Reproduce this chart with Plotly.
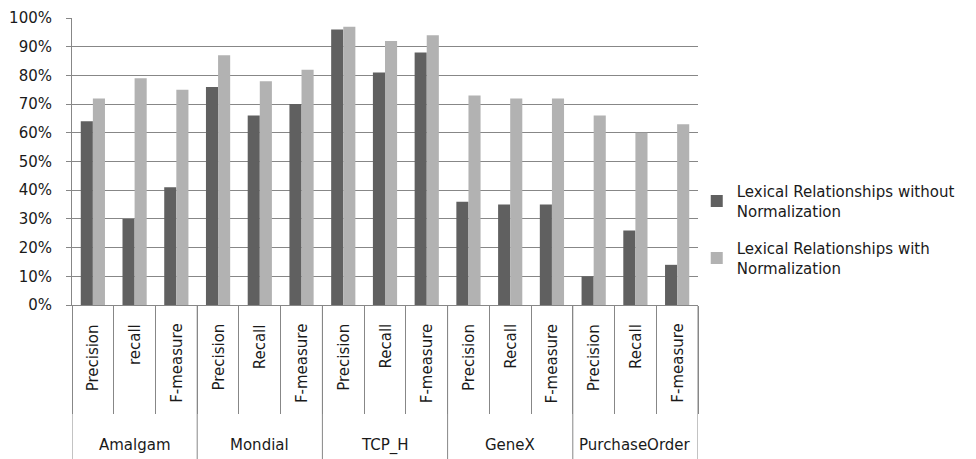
import plotly.graph_objects as go

datasets = ["Amalgam", "Mondial", "TCP_H", "GeneX", "PurchaseOrder"]
metrics = [
    ["Precision", "recall", "F-measure"],
    ["Precision", "Recall", "F-measure"],
    ["Precision", "Recall", "F-measure"],
    ["Precision", "Recall", "F-measure"],
    ["Precision", "Recall", "F-measure"],
]
without_norm = [0.64, 0.30, 0.41, 0.76, 0.66, 0.70, 0.96, 0.81, 0.88,
                0.36, 0.35, 0.35, 0.10, 0.26, 0.14]
with_norm = [0.72, 0.79, 0.75, 0.87, 0.78, 0.82, 0.97, 0.92, 0.94,
             0.73, 0.72, 0.72, 0.66, 0.60, 0.63]
series_names = ["Lexical Relationships without<br>Normalization",
                "Lexical Relationships with<br>Normalization"]
y_ticks = [i / 10 for i in range(11)]

FONT = "DejaVu Sans, sans-serif"
GRID = "#878787"
TEXT = "#1a1a1a"

labels = [m for grp in metrics for m in grp]
xs = list(range(len(labels)))

fig = go.Figure()
fig.add_trace(go.Bar(x=xs, y=without_norm, name=series_names[0],
                     marker=dict(color="#606060", line=dict(width=0)),
                     legendgroup="a"))
fig.add_trace(go.Bar(x=xs, y=with_norm, name=series_names[1],
                     marker=dict(color="#b2b2b2", line=dict(width=0)),
                     legendgroup="b"))

TOP = 10
BOTTOM = 154
plot_h = 451.0 - TOP - BOTTOM

# inner labels
for i, lab in enumerate(labels):
    fig.add_annotation(x=i, xref="x", y=-17 / plot_h, yref="paper",
                       text=lab, textangle=-90, showarrow=False,
                       xanchor="center", yanchor="top",
                       font=dict(family=FONT, size=15, color=TEXT))

# group labels and dividers
start = 0
bounds = [-0.5]
for g, grp in enumerate(metrics):
    n = len(grp)
    center = start + (n - 1) / 2
    fig.add_annotation(x=center, xref="x", y=-140 / plot_h, yref="paper",
                       text=datasets[g], showarrow=False,
                       xanchor="center", yanchor="middle",
                       font=dict(family=FONT, size=15, color=TEXT))
    start += n
    bounds.append(start - 0.5)

for b in bounds:
    fig.add_shape(type="line", xref="x", yref="paper", x0=b, x1=b,
                  y0=0, y1=-BOTTOM / plot_h,
                  line=dict(color=GRID, width=1))

fig.update_layout(
    width=968, height=451,
    margin=dict(l=64, r=278, t=TOP, b=BOTTOM, autoexpand=False),
    plot_bgcolor="white", paper_bgcolor="white",
    barmode="group", bargap=0.42, bargroupgap=0,
    font=dict(family=FONT, size=15, color=TEXT),
    showlegend=True,
    legend=dict(x=0.998, xanchor="left", y=(BOTTOM + 130 - 154) / plot_h + 0.0,
                yanchor="top",
                font=dict(family=FONT, size=15, color=TEXT),
                tracegroupgap=15, bgcolor="rgba(0,0,0,0)"),
)
fig.update_xaxes(range=[-0.5, len(labels) - 0.5], automargin=False,
                 tickmode="array",
                 tickvals=[x - 0.5 for x in range(len(labels) + 1)],
                 showticklabels=False, ticks="outside", ticklen=108,
                 tickcolor=GRID, tickwidth=1,
                 showline=True, linecolor=GRID, linewidth=1,
                 showgrid=False, zeroline=False)
fig.update_yaxes(range=[0, 1.0001], automargin=False, tickmode="array",
                 tickvals=y_ticks,
                 tickformat=".0%", showgrid=True, gridcolor=GRID, gridwidth=1,
                 showline=True, linecolor=GRID, linewidth=1,
                 ticks="outside", ticklen=5, tickcolor=GRID,
                 ticklabelstandoff=11, ticklabeloverflow="allow",
                 zeroline=False,
                 tickfont=dict(family=FONT, size=15, color=TEXT))

fig.write_html("out.html")
